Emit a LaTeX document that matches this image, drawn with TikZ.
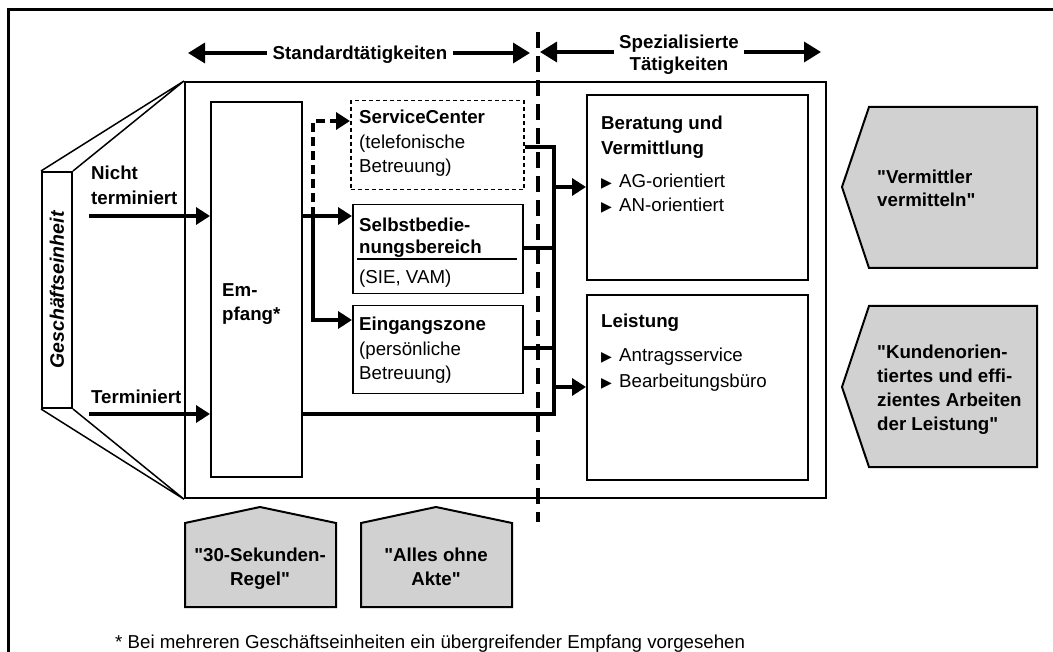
\documentclass[tikz,border=0pt]{standalone}
\usepackage{fontspec}
\setmainfont{Liberation Sans}[Ligatures=TeXOff]
\newfontfamily\sym{DejaVu Sans}
\usetikzlibrary{arrows.meta}
\newcommand{\bul}{\makebox[18pt][l]{\sym\fontsize{14}{14}\selectfont ▶}}
\begin{document}
\begin{tikzpicture}[x=1pt,y=-1pt,
  txt/.style={inner sep=0pt, font=\fontsize{18.7}{24.5}\selectfont, align=left, anchor=north west},
  btxt/.style={txt, font=\fontsize{18.7}{24.5}\selectfont\bfseries},
  conn/.style={line width=3.4pt, line join=miter},
  arr/.style={conn, -{Triangle[length=14pt,width=17pt]}},
  darr/.style={arr, dash pattern=on 9pt off 5pt},
  bigarr/.style={line width=3.5pt, -{Triangle[length=17pt,width=20pt]}},
  box/.style={draw, line width=1.8pt, inner sep=0pt, anchor=north west},
  gshape/.style={draw, line width=2pt, fill=black!18, line join=miter},
]
\useasboundingbox (0,0) rectangle (1053,652);
\fill[white] (0,0) rectangle (1053,652);
% outer frame (top and left only)
\draw[line width=3pt] (8.5,652) -- (8.5,10) -- (1053,10);

% main box
\node[box, line width=2.2pt, minimum width=641pt, minimum height=416pt] (main) at (184,81) {};
% Geschaeftseinheit side panel
\node[box, line width=2pt, minimum width=30pt, minimum height=236pt] (ge) at (41,171) {};
\draw[line width=1.5pt] (ge.north west) -- (main.north west) (ge.north east) -- (main.north west);
\draw[line width=1.5pt] (ge.south west) -- (main.south west) (ge.south east) -- (main.south west);
\node[inner sep=0pt, rotate=90, font=\fontsize{19.5}{20}\selectfont\bfseries\itshape] (getxt) at (ge.center) {Geschäftseinheit};

% Empfang
\node[box, minimum width=91pt, minimum height=375pt] (emp) at (210,101) {};
\node[btxt] (emptxt) at (222,283) {Em-\\pfang*};

% middle boxes
\node[box, line width=1.5pt, dash pattern=on 4pt off 3pt, minimum width=173pt, minimum height=89pt] (sc) at (350,100) {};
\node[txt] (sctxt) at (359,110) {\textbf{ServiceCenter}\\(telefonische\\Betreuung)};
\node[box, line width=1.5pt, minimum width=170pt, minimum height=89pt] (sb) at (352,204) {};
\node[btxt, font=\fontsize{18.7}{22}\selectfont\bfseries] (sbtxt) at (359,218) {Selbstbedie-\\nungsbereich};
\draw[line width=1.8pt] (357,259) -- (517,259);
\node[txt] (sbsub) at (359,270) {(SIE, VAM)};
\node[box, line width=1.5pt, minimum width=170pt, minimum height=88pt] (ez) at (352,305) {};
\node[txt] (eztxt) at (359,317) {\textbf{Eingangszone}\\(persönliche\\Betreuung)};

% right boxes
\node[box, line width=2pt, minimum width=221pt, minimum height=185pt] (ber) at (586,94) {};
\node[btxt] (bertxt) at (601,116) {Beratung und\\Vermittlung};
\node[txt, font=\fontsize{18.7}{24}\selectfont] (berlist) at (601,174) {\bul AG-orientiert\\\bul AN-orientiert};
\node[box, line width=2pt, minimum width=221pt, minimum height=185pt] (lei) at (586,294) {};
\node[btxt] (leitxt) at (601,314) {Leistung};
\node[txt, font=\fontsize{18.7}{26}\selectfont] (leilist) at (601,348) {\bul Antragsservice\\\bul Bearbeitungsbüro};

% inputs
\node[btxt] (ntxt) at (91,166) {Nicht\\terminiert};
\node[btxt] (ttxt) at (91,390) {Terminiert};
\coordinate (nIn) at (89,216);
\coordinate (tIn) at (89,414);
\draw[arr] (nIn) -- (nIn -| emp.west);
\draw[arr] (tIn) -- (tIn -| emp.west);

% distribution from Empfang
\coordinate (br) at (313,216);
\coordinate (brS) at (313,121);
\coordinate (brE) at (313,320);
\draw[arr] (nIn -| emp.east) -- (nIn -| sb.west);
\draw[arr] (br) -- (brE) -- (brE -| ez.west);
\draw[darr] (br) -- (brS) -- (brS -| sc.west);

% collector bus
\coordinate (busT) at (554,147);
\coordinate (busB) at (554,414);
\coordinate (b2) at (554,248);
\coordinate (b3) at (554,348);
\coordinate (a1) at (554,187);
\coordinate (a2) at (554,387);
\draw[conn] (sc.east |- busT) -- (busT) -- (busB) -- (tIn -| emp.east);
\draw[conn] (sb.east |- b2) -- (b2);
\draw[conn] (ez.east |- b3) -- (b3);
\draw[arr] (a1) -- (a1 -| ber.west);
\draw[arr] (a2) -- (a2 -| lei.west);

% divider
\coordinate (divT) at (538,32);
\coordinate (divB) at (538,522);
\draw[line width=4.5pt, dash pattern=on 16pt off 8pt] (divT) -- (divB);

% headers
\node[inner ysep=0pt, inner xsep=5.7pt, anchor=north, font=\fontsize{18.7}{22}\selectfont\bfseries] (std) at (360,46) {Standardtätigkeiten};
\coordinate (stdL) at (188,53);
\coordinate (stdR) at (530,53);
\draw[bigarr] (std.west |- stdL) -- (stdL);
\draw[bigarr] (std.east |- stdR) -- (stdR);
\node[inner ysep=0pt, inner xsep=5.5pt, anchor=north, align=center, font=\fontsize{18.7}{22}\selectfont\bfseries] (spz) at (679,35) {Spezialisierte\\Tätigkeiten};
\coordinate (spzL) at (540,52);
\coordinate (spzR) at (821,52);
\draw[bigarr] (spz.west |- spzL) -- (spzL);
\draw[bigarr] (spz.east |- spzR) -- (spzR);

% grey pentagons right
\draw[gshape] (842,187) -- (869,107) -- (1037,107) -- (1037,268) -- (869,268) -- cycle;
\node[btxt, font=\fontsize{18.7}{23}\selectfont\bfseries] (vtxt) at (877,170) {"Vermittler\\vermitteln"};
\draw[gshape] (842,387) -- (869,306) -- (1037,306) -- (1037,467) -- (869,467) -- cycle;
\node[btxt, font=\fontsize{18.7}{24}\selectfont\bfseries] (ktxt) at (877,345) {"Kundenorien-\\tiertes und effi-\\zientes Arbeiten\\der Leistung"};

% grey pentagons bottom
\draw[gshape] (185,523) -- (260,507) -- (336,523) -- (336,607) -- (185,607) -- cycle;
\node[inner sep=0pt, anchor=north, align=center, font=\fontsize{18.7}{24}\selectfont\bfseries] (s30) at (260,548) {"30-Sekunden-\\Regel"};
\draw[gshape] (361,523) -- (436,507) -- (512,523) -- (512,607) -- (361,607) -- cycle;
\node[inner sep=0pt, anchor=north, align=center, font=\fontsize{18.7}{24}\selectfont\bfseries] (akte) at (436,548) {"Alles ohne\\Akte"};

% footnote
\node[txt] (fn) at (115,635) {* Bei mehreren Geschäftseinheiten ein übergreifender Empfang vorgesehen};
\end{tikzpicture}
\end{document}
